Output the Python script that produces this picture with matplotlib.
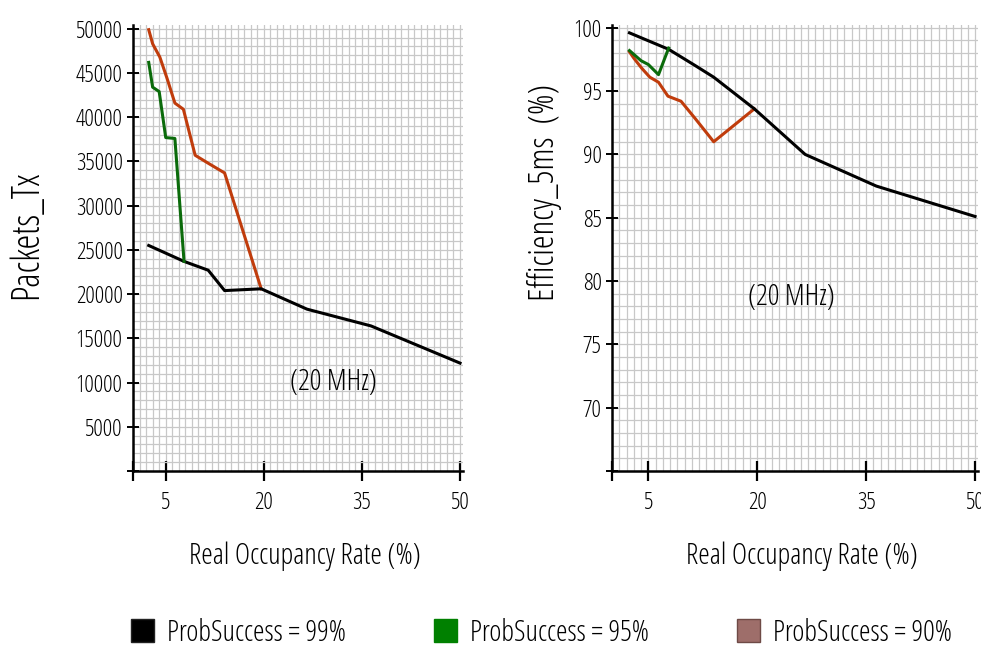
import matplotlib
matplotlib.use("Agg")
import matplotlib.pyplot as plt
from matplotlib.patches import Patch
from matplotlib.ticker import MultipleLocator

plt.rcParams['font.family'] = ['Open Sans', 'DejaVu Sans']
plt.rcParams['font.stretch'] = 'condensed'
plt.rcParams['font.weight'] = 'light'

# occupancy rate (%) for each success probability
x99 = [2.4, 7.8, 11.5, 14.0, 19.6, 26.6, 36.4, 50.0]
x95 = [2.4, 3.0, 4.0, 5.0, 6.4, 7.8]
x90 = [2.4, 3.0, 4.1, 5.2, 6.4, 7.7, 9.5, 11.5, 14.0, 19.6]

# packets transmitted
p99 = [25500, 23700, 22700, 20400, 20600, 18300, 16400, 12200]
p95 = [46200, 43400, 42900, 37700, 37600, 23700]
p90 = [49900, 48300, 46800, 44400, 41600, 40900, 35700, 34800, 33700, 20600]

# efficiency 5ms (%)
e99 = [99.6, 98.3, 97.0, 96.1, 93.6, 90.0, 87.5, 85.1]
e95 = [98.2, 97.9, 97.4, 97.1, 96.3, 98.4]
e90 = [98.1, 97.6, 96.8, 96.1, 95.7, 94.6, 94.2, 92.8, 91.0, 93.6]

xticks = [0, 5, 20, 35, 50]
xticklabels = ['', '5', '20', '35', '50']
yticks_left = list(range(0, 50001, 5000))
yticks_right = [65, 70, 75, 80, 85, 90, 95, 100]

legend_labels = ['ProbSuccess = 99%', 'ProbSuccess = 95%', 'ProbSuccess = 90%']

c99, c95, c90 = '#000000', '#0b6b0b', '#c03c0c'


def style_axes(ax, yminor):
    for s in ['top', 'right']:
        ax.spines[s].set_visible(False)
    for s in ['left', 'bottom']:
        ax.spines[s].set_linewidth(1.8)
    ax.xaxis.set_minor_locator(MultipleLocator(1))
    ax.yaxis.set_minor_locator(MultipleLocator(yminor))
    ax.grid(which='both', color='#c8c8c8', linewidth=0.9)
    ax.set_axisbelow(True)
    ax.tick_params(which='minor', length=0)
    ax.tick_params(axis='x', which='major', direction='inout', length=15,
                   width=1.6, labelsize=17, pad=7)
    ax.tick_params(axis='y', which='major', direction='inout', length=9,
                   width=1.4, labelsize=17, pad=3)
    ax.set_xticks(xticks)
    ax.set_xticklabels(xticklabels)
    ax.set_xlim(0, 50.4)
    ax.set_xlabel('Real Occupancy Rate (%)', fontsize=21)
    ax.xaxis.set_label_coords(0.52, -0.158)


fig = plt.figure(figsize=(9.81, 6.46), dpi=100)

ax1 = fig.add_axes([0.1356, 0.2709, 0.336, 0.690])
style_axes(ax1, 1000)
ax1.plot(x99, p99, color=c99, lw=2.2, zorder=3)
ax1.plot(x95, p95, color=c95, lw=2.2, zorder=3)
ax1.plot(x90, p90, color=c90, lw=2.2, zorder=2)
ax1.set_ylim(0, 50400)
ax1.set_yticks(yticks_left)
ax1.set_yticklabels([''] + [str(v) for v in yticks_left[1:]])
ax1.set_ylabel('Packets_Tx', fontsize=27)
ax1.yaxis.set_label_coords(-0.265, 0.53)
ax1.text(30.7, 10000, '(20 MHz)', fontsize=21, ha='center', va='center')

ax2 = fig.add_axes([0.6239, 0.2709, 0.373, 0.690])
style_axes(ax2, 1)
ax2.plot(x99, e99, color=c99, lw=2.2, zorder=3)
ax2.plot(x95, e95, color=c95, lw=2.2, zorder=3)
ax2.plot(x90, e90, color=c90, lw=2.2, zorder=2)
ax2.set_ylim(65, 100.2)
ax2.set_yticks(yticks_right)
ax2.set_yticklabels([''] + [str(v) for v in yticks_right[1:]])
ax2.set_ylabel('Efficiency_5ms  (%)', fontsize=25)
ax2.yaxis.set_label_coords(-0.138, 0.625)
ax2.text(24.7, 78.75, '(20 MHz)', fontsize=21, ha='center', va='center')

handles = [Patch(facecolor='#000000', edgecolor='#222222'),
           Patch(facecolor='#008000', edgecolor='#008000'),
           Patch(facecolor='#9e6e6a', edgecolor='#6e4a46')]
fig.legend(handles, legend_labels, loc='center', bbox_to_anchor=(0.552, 0.02),
           ncol=3, frameon=False, fontsize=21, handlelength=0.8,
           handleheight=0.85, handletextpad=0.45, columnspacing=3.0)

plt.savefig('out.png')
